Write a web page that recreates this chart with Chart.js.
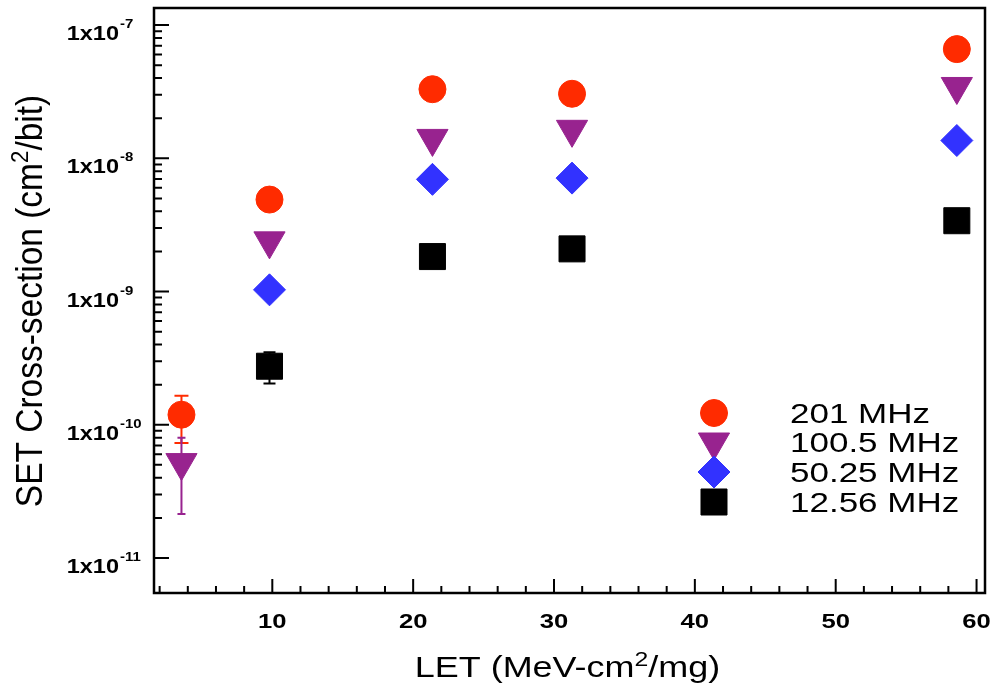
<!DOCTYPE html>
<html>
<head>
<meta charset="utf-8">
<script src="https://cdn.jsdelivr.net/npm/chart.js@4.4.0/dist/chart.umd.min.js"></script>
<style>
  html, body { margin: 0; padding: 0; background: #fff; }
</style>
</head>
<body>
<canvas id="graph" width="995" height="698"></canvas>
<script>
// LET values (MeV-cm2/mg) for the five ion runs
const letValues = [3.55, 9.8, 21.37, 31.28, 58.6];

// SET cross-section (cm2/bit), one array per clock frequency
const sigma201 = [1.19e-10, 4.9e-9, 3.3e-8, 3.05e-8, 6.6e-8];
const sigma100 = [5.2e-11, 2.4e-9, 1.41e-8, 1.65e-8, 3.46e-8];
const sigma50 = [null, 1.03e-9, 6.95e-9, 7.1e-9, 1.36e-8];
const sigma12 = [null, 2.75e-10, 1.83e-9, 2.09e-9, 3.4e-9];

// error bars [low, high] where they stick out of the marker
const err201 = [[7.3e-11, 1.65e-10], null, null, null, null];
const err100 = [[2.14e-11, 8.0e-11], null, null, null, null];
const err50 = [null, null, null, null, null];
const err12 = [null, [2.04e-10, 3.5e-10], null, null, null];

const seriesLabels = ['201 MHz', '100.5 MHz', '50.25 MHz', '12.56 MHz'];
const xTickValues = [10, 20, 30, 40, 50, 60];
const yDecades = [-11, -10, -9, -8, -7];

const FONT = '"Liberation Sans", Arial, Helvetica, sans-serif';

const styles = [
  { color: '#ff2b00', pointStyle: 'circle', radius: 13.5, rotation: 0, cap: 7 },
  { color: '#98238f', pointStyle: 'triangle', radius: 18, rotation: 180, cap: 4 },
  { color: '#3232ff', pointStyle: 'rectRot', radius: 16, rotation: 0, cap: 5 },
  { color: '#000000', pointStyle: 'rect', radius: 18.4, rotation: 0, cap: 6 }
];
const seriesValues = [sigma201, sigma100, sigma50, sigma12];
const seriesErrors = [err201, err100, err50, err12];

function toPoints(values) {
  const pts = [];
  values.forEach((v, i) => {
    if (v !== null) pts.push({ x: letValues[i], y: v });
  });
  return pts;
}

// draws text made of pieces (normal + superscript), stretched horizontally by sx
function drawRich(ctx, parts, x, y, align, sx) {
  let total = 0;
  parts.forEach(p => { ctx.font = p.font; p.w = ctx.measureText(p.text).width * sx; total += p.w; });
  let cx = x;
  if (align === 'center') cx = x - total / 2;
  if (align === 'right') cx = x - total;
  parts.forEach(p => {
    ctx.save();
    ctx.font = p.font;
    ctx.textAlign = 'left';
    ctx.textBaseline = 'alphabetic';
    ctx.translate(cx, y + (p.dy || 0));
    ctx.scale(sx, 1);
    ctx.fillText(p.text, 0, 0);
    ctx.restore();
    cx += p.w;
  });
}

const framePlugin = {
  id: 'framePlugin',
  beforeDatasetsDraw(chart) {
    const ctx = chart.ctx;
    const xs = chart.scales.x, ys = chart.scales.y;
    ctx.save();
    ctx.lineWidth = 2;
    seriesErrors.forEach((errs, s) => {
      ctx.strokeStyle = styles[s].color;
      errs.forEach((e, i) => {
        if (!e) return;
        const px = xs.getPixelForValue(letValues[i]);
        const lo = ys.getPixelForValue(e[0]);
        const hi = ys.getPixelForValue(e[1]);
        const c = styles[s].cap;
        ctx.beginPath();
        ctx.moveTo(px, lo); ctx.lineTo(px, hi);
        ctx.moveTo(px - c, lo); ctx.lineTo(px + c, lo);
        ctx.moveTo(px - c, hi); ctx.lineTo(px + c, hi);
        ctx.stroke();
      });
    });
    ctx.restore();
  },
  afterDraw(chart) {
    const ctx = chart.ctx;
    const a = chart.chartArea;
    const xs = chart.scales.x, ys = chart.scales.y;
    ctx.save();
    ctx.strokeStyle = '#000';
    ctx.fillStyle = '#000';

    // frame
    ctx.lineWidth = 2.5;
    ctx.strokeRect(a.left, a.top, a.right - a.left, a.bottom - a.top);

    // y ticks (inward), log decades with minor ticks
    ctx.lineWidth = 2;
    ctx.beginPath();
    yDecades.forEach(d => {
      for (let m = 1; m <= 9; m++) {
        const v = m * Math.pow(10, d);
        if (v < ys.min || v > ys.max) continue;
        const py = ys.getPixelForValue(v);
        ctx.moveTo(a.left, py);
        ctx.lineTo(a.left + (m === 1 ? 15 : 8), py);
      }
    });
    // x ticks (inward), majors every 10, minors every 2
    for (let v = 2; v <= 60; v += 2) {
      const px = xs.getPixelForValue(v);
      ctx.moveTo(px, a.bottom);
      ctx.lineTo(px, a.bottom - (v % 10 === 0 ? 14 : 7));
    }
    ctx.stroke();

    // y tick labels 1x10^n
    yDecades.forEach(d => {
      const py = ys.getPixelForValue(Math.pow(10, d));
      drawRich(ctx, [{ text: '1x10', font: 'bold 21px ' + FONT }], 119, py + 15, 'right', 1.12);
      drawRich(ctx, [{ text: String(d), font: 'bold 13px ' + FONT }], 120, py + 3, 'left', 1.15);
    });

    // x tick labels
    xTickValues.forEach(v => {
      const px = xs.getPixelForValue(v);
      drawRich(ctx, [{ text: String(v), font: 'bold 21px ' + FONT }], px, 628, 'center', 1.22);
    });

    // x title
    drawRich(ctx, [
      { text: 'LET (MeV-cm', font: '29px ' + FONT },
      { text: '2', font: '20px ' + FONT, dy: -11 },
      { text: '/mg)', font: '29px ' + FONT }
    ], (a.left + a.right) / 2 - 2, 677, 'center', 1.24);

    // y title, rotated
    ctx.save();
    ctx.translate(42, 301);
    ctx.rotate(-Math.PI / 2);
    drawRich(ctx, [
      { text: 'SET Cross-section (cm', font: '36px ' + FONT },
      { text: '2', font: '24px ' + FONT, dy: -14 },
      { text: '/bit)', font: '36px ' + FONT }
    ], 0, 0, 'center', 0.93);
    ctx.restore();

    // legend inside the plot
    const rows = [413, 442, 472, 502];
    seriesLabels.forEach((label, s) => {
      const st = styles[s];
      ctx.fillStyle = st.color;
      ctx.strokeStyle = st.color;
      ctx.lineWidth = 1;
      Chart.helpers.drawPoint(ctx, {
        pointStyle: st.pointStyle, rotation: st.rotation, radius: st.radius, borderWidth: 1
      }, 714, rows[s]);
      ctx.fillStyle = '#000';
      drawRich(ctx, [{ text: label, font: '28px ' + FONT }], 790, rows[s] + 10, 'left', 1.25);
    });

    ctx.restore();
  }
};

window.onload = () => {
  const ctx = document.getElementById('graph').getContext('2d');
  new Chart(ctx, {
    type: 'scatter',
    data: {
      datasets: seriesLabels.map((label, s) => ({
        label: label,
        data: toPoints(seriesValues[s]),
        pointStyle: styles[s].pointStyle,
        pointRotation: styles[s].rotation,
        pointRadius: styles[s].radius,
        pointHoverRadius: styles[s].radius,
        pointBackgroundColor: styles[s].color,
        pointBorderColor: styles[s].color,
        pointBorderWidth: 1,
        showLine: false
      }))
    },
    options: {
      responsive: false,
      animation: false,
      devicePixelRatio: 1,
      events: [],
      layout: { autoPadding: false, padding: { top: 8, right: 10, left: 0, bottom: 0 } },
      plugins: {
        legend: { display: false },
        tooltip: { enabled: false }
      },
      scales: {
        x: {
          type: 'linear',
          min: 1.6,
          max: 60.6,
          grid: { display: false },
          border: { display: false },
          ticks: { display: false },
          afterFit: s => { s.height = 105; }
        },
        y: {
          type: 'logarithmic',
          min: 5.46e-12,
          max: 1.343e-7,
          grid: { display: false },
          border: { display: false },
          ticks: { display: false },
          afterFit: s => { s.width = 154; }
        }
      }
    },
    plugins: [framePlugin]
  });
};
</script>
</body>
</html>
